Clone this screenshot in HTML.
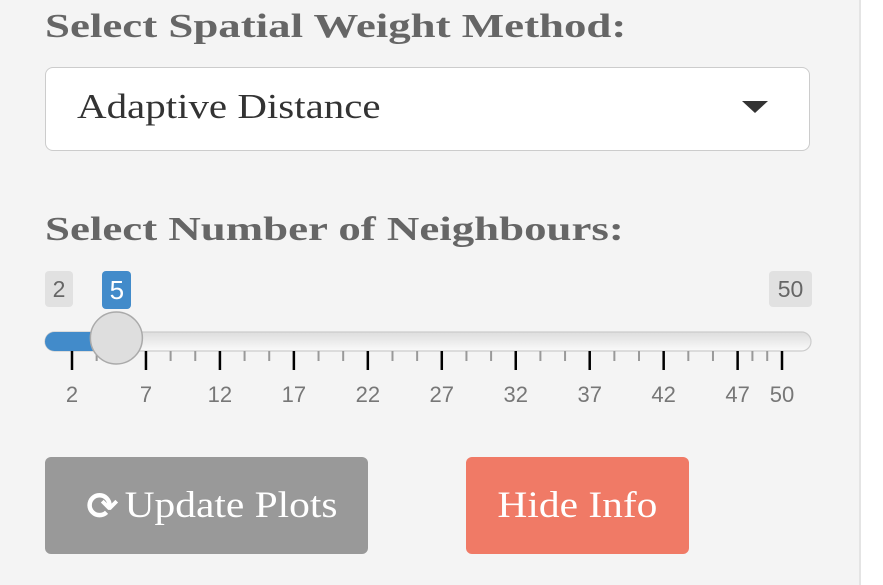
<!DOCTYPE html>
<html><head><meta charset="utf-8"><style>
body{margin:0;width:883px;height:585px;background:#fff;overflow:hidden;position:relative;font-family:"Liberation Serif",serif}
#panel{position:absolute;left:0;top:0;width:859px;height:585px;background:#f4f4f4;border-right:2px solid #e4e4e4}
.h{position:absolute;left:45px;font-weight:bold;color:#666;font-size:34px;white-space:nowrap;transform:scaleX(1.32);transform-origin:left top}
#sel{position:absolute;left:45px;top:67px;width:763px;height:82px;background:#fff;border:1.5px solid #ccc;border-radius:8px}
#sel span{position:absolute;left:31px;top:19px;font-size:35px;color:#333;transform:scaleX(1.17);transform-origin:left top;white-space:nowrap}
#tri{position:absolute;left:696px;top:33px;width:0;height:0;border-left:13px solid transparent;border-right:13px solid transparent;border-top:12px solid #333}
.btn{position:absolute;top:457px;height:97px;border-radius:6px;color:#fff;font-size:37px;display:flex;align-items:center;justify-content:center}
.btn span.t{display:inline-block;transform:scaleX(1.12)}
.pill{position:absolute;top:271px;height:36px;border-radius:4px;font-family:"Liberation Sans",sans-serif;font-size:23px;display:flex;align-items:center;justify-content:center}
</style></head><body>
<div id="panel"></div>
<div class="h" style="top:8px">Select Spatial Weight Method:</div>
<div id="sel"><span>Adaptive Distance</span><div id="tri"></div></div>
<div class="h" style="top:211px">Select Number of Neighbours:</div>
<div class="pill" style="left:45px;width:28px;background:#e1e1e1;color:#666">2</div>
<div class="pill" style="left:769px;width:43px;background:#e1e1e1;color:#666">50</div>
<svg id="sl" width="883" height="420" style="position:absolute;left:0;top:0">
<defs><linearGradient id="g" x1="0" y1="0" x2="0" y2="1"><stop offset="0" stop-color="#ddd"/><stop offset="1" stop-color="#fafafa"/></linearGradient></defs>
<rect x="45" y="332" width="766" height="19" rx="9.5" fill="url(#g)" stroke="#ccc" stroke-width="1.2"/>
<g id="ticks"></g>
</svg>
<div class="btn" style="left:45px;width:323px;background:#999"><span style="font-family:'DejaVu Sans';font-size:38px;margin-right:18px;font-weight:bold">⟳</span><span class="t">Update Plots</span></div>
<div class="btn" style="left:466px;width:223px;background:#f07a66"><span class="t">Hide Info</span></div>
<script>
const minVal=2, maxVal=50, value=5;
const majorTicks=[2,7,12,17,22,27,32,37,42,47,50];
const tickLabels=["2","7","12","17","22","27","32","37","42","47","50"];
const ns="http://www.w3.org/2000/svg";
const x=v=>72+(v-minVal)*(782-72)/(maxVal-minVal);
const svg=document.getElementById('sl'), g=document.getElementById('ticks');
function mk(t,a){const e=document.createElementNS(ns,t);for(const k in a)e.setAttribute(k,a[k]);return e;}
majorTicks.forEach((v,i)=>{
  const l=mk('line',{x1:x(v),x2:x(v),y1:351,y2:370,stroke:'#000','stroke-width':2.5});
  
  
  g.appendChild(l);
  const t=mk('text',{x:x(v),y:402,'text-anchor':'middle','font-family':'Liberation Sans, sans-serif','font-size':22,fill:'#777'});
  t.textContent=tickLabels[i];
  
  
  g.appendChild(t);
  if(i<majorTicks.length-1){const n=majorTicks[i+1];
    [1,2].forEach(k=>{const mv=v+(n-v)*k/3;
      const m=mk('line',{x1:x(mv),x2:x(mv),y1:351,y2:361,stroke:'#999','stroke-width':2});
      
      
      g.appendChild(m);});}
});
const bar=mk('rect',{x:45,y:332,width:x(value)-45,height:19,rx:9.5,fill:'#428bca'});


svg.appendChild(bar);
const h=mk('circle',{cx:x(value),cy:338,r:26,fill:'#dedede',stroke:'#aaa','stroke-width':1.5});


svg.appendChild(h);
const lb=document.createElement('div');
lb.className='pill';
lb.style.cssText='left:'+(x(value)-14)+'px;width:29px;top:271px;height:38px;background:#428bca;color:#fff;font-size:26px';
lb.textContent=value;


document.body.appendChild(lb);
</script>
</body></html>
